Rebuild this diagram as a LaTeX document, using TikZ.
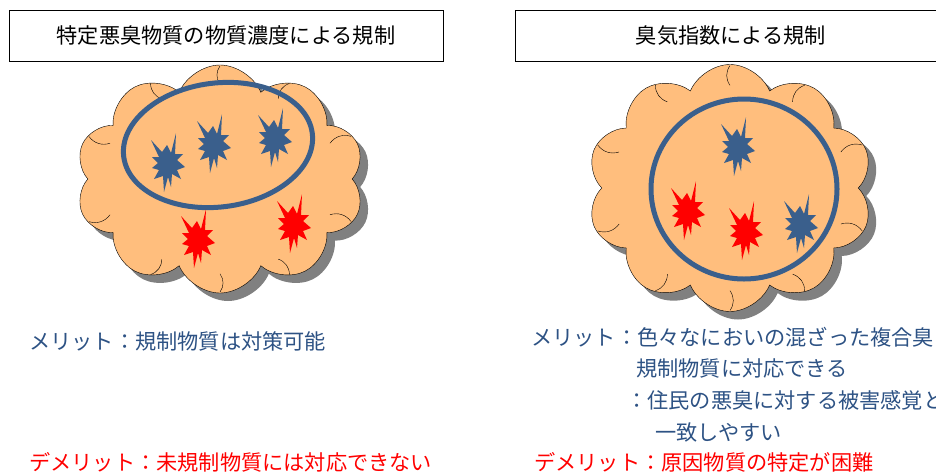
\documentclass[tikz,border=0pt]{standalone}
\usepackage{fontspec}
\newfontfamily\jpfont{Noto Sans CJK JP}
\usetikzlibrary{shapes.symbols,calc}

\definecolor{cloudfill}{RGB}{255,190,125}
\definecolor{smellblue}{RGB}{58,95,140}
\definecolor{textblue}{RGB}{45,82,132}
\definecolor{shadowgray}{RGB}{128,128,128}

\tikzset{
  titlebox/.style={draw, line width=1pt, minimum height=51pt, inner sep=0pt,
    font=\jpfont\fontsize{21.2}{24}\selectfont},
  puff/.style={cloud, cloud puffs=10, cloud puff arc=135, cloud ignores aspect,
    inner sep=0pt},
  merit/.style={anchor=base west, inner sep=0pt, text=textblue,
    font=\jpfont\fontsize{21.2}{24}\selectfont},
  demerit/.style={merit, text=red},
  burst/.pic={
    \fill[pic actions] (-16,-24) -- (-5,-12) -- (0,-19) -- (4,-11) -- (9,-31)
      -- (8,-10) -- (16,-10) -- (10,-4) -- (18,3) -- (10,6) -- (14,15)
      -- (5,10) -- (4,23) -- (1,13) -- (-3,28) -- (-4,12) -- (-13,15)
      -- (-8,6) -- (-15,4) -- (-9,-1) -- (-15,-7) -- (-8,-7) -- cycle;
  }
}

\begin{document}
\begin{tikzpicture}[x=1pt,y=-1pt]
  \useasboundingbox (0,0) rectangle (936,472);

  % Headings
  \node[titlebox, minimum width=434pt] (lefttitle) at (226,35.5)
    {特定悪臭物質の物質濃度による規制};
  \node[titlebox, minimum width=432pt] (righttitle) at (731,35.5)
    {臭気指数による規制};

  % Left cloud with its shadow
  \node[puff, fill=shadowgray, minimum width=289pt, minimum height=228pt]
    (leftshadow) at (228,187) {};
  \node[puff, draw, fill=cloudfill, minimum width=289pt, minimum height=228pt]
    (leftcloud) at (220,179) {};
  \foreach \a in {0,36,...,324}
    \draw ($(leftcloud.\a+18)!0.01!(leftcloud.center)$)
      to[bend right=35] ($(leftcloud.\a+18)!0.17!(leftcloud.center)$);

  % Regulated substances
  \draw[smellblue, line width=5pt, rotate around={7:(218,145)}]
    (218,145) ellipse [x radius=95, y radius=62];
  \path pic[fill=smellblue] at (167,164) {burst};
  \path pic[fill=smellblue] at (213,145) {burst};
  \path pic[fill=smellblue] at (274,139) {burst};
  \path pic[fill=red] at (197,240) {burst};
  \path pic[fill=red] at (293,225) {burst};

  % Right cloud with its shadow
  \node[puff, fill=shadowgray, minimum width=286pt, minimum height=247pt]
    (rightshadow) at (738,196) {};
  \node[puff, draw, fill=cloudfill, minimum width=286pt, minimum height=247pt]
    (rightcloud) at (730,188) {};
  \foreach \a in {0,36,...,324}
    \draw ($(rightcloud.\a+18)!0.01!(rightcloud.center)$)
      to[bend right=35] ($(rightcloud.\a+18)!0.17!(rightcloud.center)$);

  % Whole odour
  \draw[smellblue, line width=5pt] (744,189) ellipse [x radius=93, y radius=90];
  \path pic[fill=smellblue] at (737,148) {burst};
  \path pic[fill=red] at (687,212) {burst};
  \path pic[fill=red] at (745,232) {burst};
  \path pic[fill=smellblue] at (800,225) {burst};

  % Merits and demerits
  \node[merit] (leftmerit) at (29,349) {メリット：規制物質は対策可能};
  \node[demerit] (leftdemerit) at (29,470) {デメリット：未規制物質には対応できない};

  \node[merit] (rightmerit) at (531,345) {メリット：色々なにおいの混ざった複合臭};
  \node[merit] (rightmeritb) at (636,376) {規制物質に対応できる};
  \node[merit] (rightmeritc) at (626,408) {：住民の悪臭に対する被害感覚と};
  \node[merit] (rightmeritd) at (655,440) {一致しやすい};
  \node[demerit] (rightdemerit) at (534,470) {デメリット：原因物質の特定が困難};
\end{tikzpicture}
\end{document}
